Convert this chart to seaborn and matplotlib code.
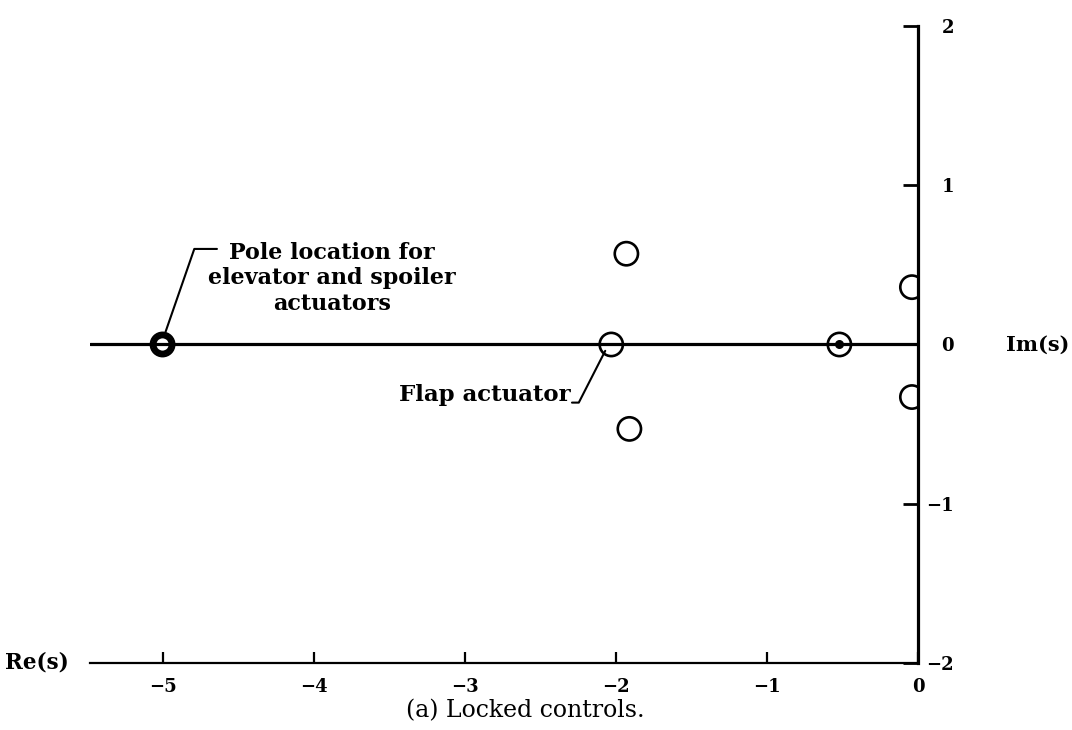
import matplotlib
matplotlib.use("Agg")
import matplotlib.pyplot as plt
import seaborn as sns
import pandas as pd

# Roots of the characteristic equation, locked controls
root_re = [-5.0, -2.03, -1.93, -1.91, -0.52, -0.04, -0.04]
root_im = [0.0, 0.0, 0.57, -0.53, 0.0, 0.36, -0.33]

x_ticks = [-5, -4, -3, -2, -1, 0]
y_ticks = [-2, -1, 0, 1, 2]


def tick_text(v):
    return str(v).replace("-", "\u2212")


sns.set_theme(style="white")
plt.rcParams["font.family"] = ["DejaVu Serif"]
plt.rcParams["font.weight"] = "bold"
plt.rcParams["text.color"] = "black"

fig = plt.figure(figsize=(10.72, 7.30), dpi=100)
ax = fig.add_axes([0.084, 0.0918, 0.7723, 0.8726])

df = pd.DataFrame({"re": root_re, "im": root_im})

# real axis
ax.axhline(0, color="black", lw=2.3, zorder=1)

sns.scatterplot(data=df, x="re", y="im", ax=ax, s=280, marker="o",
                facecolor="none", edgecolor="black", linewidth=1.9,
                zorder=3, legend=False)

# coincident poles drawn doubled
ax.scatter([root_re[0]], [root_im[0]], s=150, facecolor="none",
           edgecolor="black", linewidth=3.4, zorder=4)
ax.scatter([root_re[4]], [root_im[4]], s=30, facecolor="black",
           edgecolor="black", marker="o", zorder=4)

ax.set_xlim(-5.48, 0)
ax.set_ylim(-2, 2)
ax.set_xticks(x_ticks)
ax.set_yticks(y_ticks)
ax.set_xticklabels([tick_text(v) for v in x_ticks], fontsize=13,
                   fontweight="bold")
ax.set_yticklabels([tick_text(v) for v in y_ticks], fontsize=13,
                   fontweight="bold", ha="right")
ax.set_xlabel("")
ax.set_ylabel("")

for side in ("top", "left"):
    ax.spines[side].set_visible(False)
ax.spines["right"].set_linewidth(2.3)
ax.spines["bottom"].set_linewidth(1.6)
ax.spines["right"].set_color("black")
ax.spines["bottom"].set_color("black")

ax.yaxis.tick_right()
ax.tick_params(axis="x", direction="in", length=8, width=1.6, pad=11,
               colors="black", bottom=True)
ax.tick_params(axis="y", direction="in", length=11, width=2.0, pad=26,
               colors="black", right=True, left=False)

# axis names
ax.text(0.58, 0, "Im(s)", ha="left", va="center", fontsize=15,
        fontweight="bold", color="black", clip_on=False)
ax.text(-5.62, -2, "Re(s)", ha="right", va="center", fontsize=15.5,
        fontweight="bold", color="black", clip_on=False)

# annotations with leaders
ax.text(-4.70, 0.415, "Pole location for\nelevator and spoiler\nactuators",
        ha="left", va="center", multialignment="center", fontsize=16,
        fontweight="bold", linespacing=1.2, color="black")
ax.plot([-4.64, -4.79, -4.98], [0.60, 0.60, 0.08], color="black", lw=1.5)

ax.text(-2.30, -0.32, "Flap actuator", ha="right", va="center",
        fontsize=16.5, fontweight="bold", color="black")
ax.plot([-2.29, -2.245, -2.07], [-0.365, -0.365, -0.04], color="black",
        lw=1.5)

fig.text(525 / 1072, 1 - 711 / 730, "(a) Locked controls.", ha="center",
         va="center", fontsize=17, fontweight="normal", color="black")

fig.savefig("out.png", dpi=100)
